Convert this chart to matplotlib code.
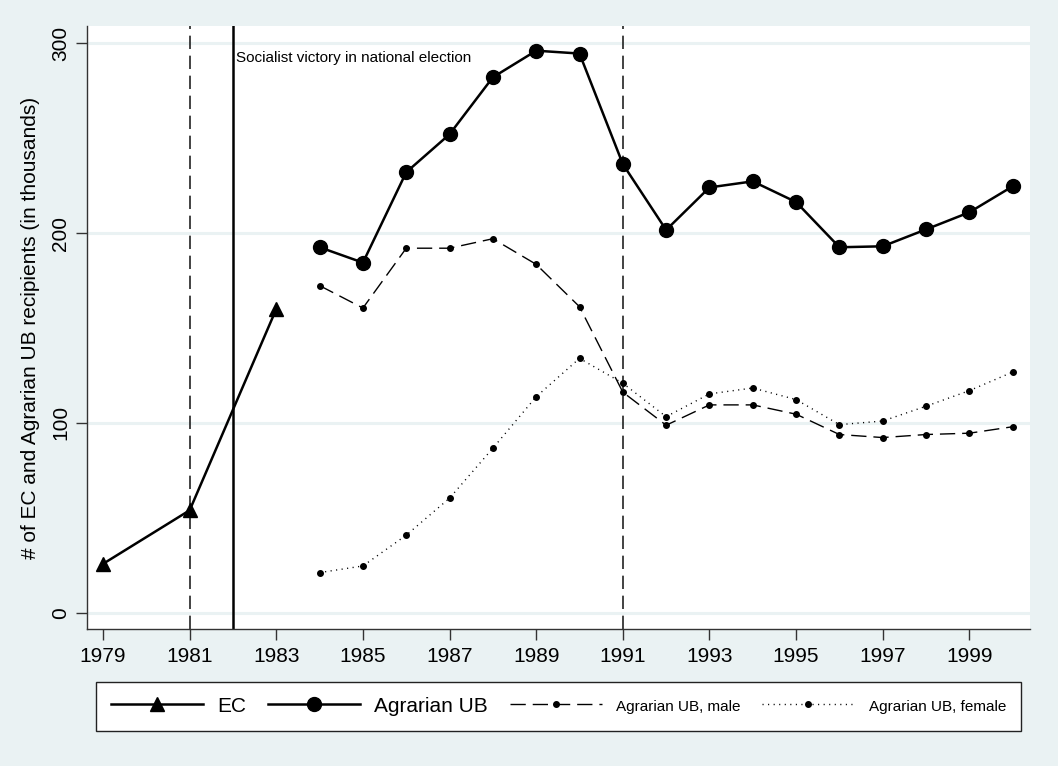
import matplotlib
matplotlib.use("Agg")
import matplotlib.pyplot as plt

plt.rcParams["font.family"] = ["Liberation Sans", "DejaVu Sans"]

# Data (in thousands)
ec_years = [1979, 1981, 1983]
ec_values = [25.8, 54, 160]

ub_years = list(range(1984, 2001))
ub_total = [192.5, 184.4, 232, 252, 282, 296, 294.5, 236.3, 201.6, 224, 227.2, 216.3, 192.5, 193, 201.9, 210.9, 224.6]
ub_male = [172.3, 160.5, 192, 192, 197, 183.5, 161.2, 116.2, 98.8, 109.5, 109.5, 104.6, 93.9, 92.3, 93.9, 94.6, 98]
ub_female = [21.2, 24.7, 40.9, 60.4, 86.7, 113.8, 134, 120.9, 103.3, 115.3, 118.4, 112.3, 99.1, 101, 108.8, 117, 126.8]

dashed_years = [1981, 1991]
election_year = 1982
election_label = "Socialist victory in national election"

x_ticks = list(range(1979, 2000, 2))
y_ticks = [0, 100, 200, 300]

BG = "#EAF2F3"

fig = plt.figure(figsize=(10.58, 7.66), dpi=100, facecolor=BG)
ax = fig.add_axes([87 / 1058, 1 - 629 / 766, (1030 - 87) / 1058, (629 - 26) / 766])
ax.set_facecolor("white")

# grid
for y in y_ticks:
    ax.axhline(y, color=BG, lw=2.2, zorder=0)

# reference lines
for yr in dashed_years:
    ax.axvline(yr, color="#222222", lw=1.2, dashes=(8, 4), zorder=1)
ax.axvline(election_year, color="black", lw=1.8, zorder=1)
ax.text(election_year + 0.07, 292, election_label, fontsize=11, va="center", ha="left")

# series
ax.plot(ec_years, ec_values, color="black", lw=1.8, marker="^", ms=10, label="EC", zorder=3)
ax.plot(ub_years, ub_total, color="black", lw=1.8, marker="o", ms=10, label="Agrarian UB", zorder=3)
ax.plot(ub_years, ub_male, color="black", lw=1.0, dashes=(11, 5), marker="o", ms=4,
        label="Agrarian UB, male", zorder=3)
ax.plot(ub_years, ub_female, color="black", lw=1.0, dashes=(0.8, 3.2), marker="o", ms=4,
        label="Agrarian UB, female", zorder=3)

ax.set_xlim(1978.63, 2000.4)
ax.set_ylim(-8.5, 309)
ax.set_xticks(x_ticks)
ax.set_yticks(y_ticks)
ax.tick_params(axis="both", length=8, width=1, color="#333333", labelsize=15)
ax.tick_params(axis="x", pad=5)
ax.tick_params(axis="y", pad=4)
for lab in ax.get_yticklabels():
    lab.set_rotation(90)
    lab.set_va("center")
ax.set_ylabel("# of EC and Agrarian UB recipients (in thousands)", fontsize=15, labelpad=8)

for side in ["top", "right"]:
    ax.spines[side].set_visible(False)
for side in ["left", "bottom"]:
    ax.spines[side].set_color("#333333")
    ax.spines[side].set_linewidth(1)

leg = fig.legend(loc="center", ncol=4, mode="expand",
                 bbox_to_anchor=(96 / 1058, 1 - 731 / 766, 925 / 1058, 50 / 766),
                 bbox_transform=fig.transFigure, frameon=True, fancybox=False,
                 framealpha=1, prop={"size": 15}, borderpad=0.72,
                 handlelength=4.4, handletextpad=0.7, columnspacing=0.8, borderaxespad=0)
leg.get_frame().set_edgecolor("#222222")
leg.get_frame().set_facecolor("white")
leg.get_frame().set_linewidth(1)
sizes = [15, 15, 11, 11]
for t, s in zip(leg.get_texts(), sizes):
    t.set_fontsize(s)

fig.savefig("out.png", dpi=100, facecolor=BG)
